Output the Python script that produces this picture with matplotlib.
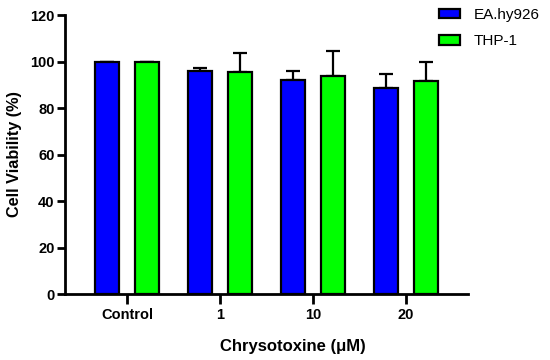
import numpy as np
import matplotlib.pyplot as plt

plt.rcParams['font.family'] = ['Liberation Sans', 'DejaVu Sans']

groups = ['Control', '1', '10', '20']
series = ['EA.hy926', 'THP-1']
ea_mean = [100, 96.1, 92.1, 88.7]
ea_sd = [0, 1.2, 3.7, 5.8]
thp_mean = [100, 95.4, 93.7, 91.5]
thp_sd = [0, 8.2, 11.0, 8.3]
colors = ['#0000ff', '#00ff00']

fig = plt.figure(figsize=(5.5, 3.6), dpi=100)
ax = fig.add_axes([0.1182, 0.1833, 0.733, 0.775])

x = np.arange(len(groups))
w = 0.255
off = 0.215
for i, (m, sd) in enumerate([(ea_mean, ea_sd), (thp_mean, thp_sd)]):
    pos = x + (-off if i == 0 else off)
    ax.bar(pos, m, width=w, color=colors[i], edgecolor='black', linewidth=1.6,
           label=series[i], zorder=2)
    ax.errorbar(pos, m, yerr=[np.zeros(len(sd)), sd], fmt='none', ecolor='black',
                elinewidth=1.6, capsize=4.7, capthick=1.6, zorder=1)

ax.set_xlim(-0.667, 3.667)
ax.set_ylim(0, 120)
ax.set_yticks(range(0, 121, 20))
ax.set_xticks(x)
ax.set_xticklabels(groups)
for s in ['top', 'right']:
    ax.spines[s].set_visible(False)
for s in ['left', 'bottom']:
    ax.spines[s].set_linewidth(2)
ax.tick_params(width=2, length=5.5, labelsize=10.5, pad=2)
ax.tick_params(axis='x', length=7, pad=3)
for lab in ax.get_xticklabels() + ax.get_yticklabels():
    lab.set_fontweight('bold')
ax.set_ylabel('Cell Viability (%)', fontsize=11.7, fontweight='bold', labelpad=6)
ax.set_xlabel('Chrysotoxine (μM)', fontsize=12, fontweight='bold')
ax.xaxis.set_label_coords(0.566, -0.16)

ax.legend(loc='upper left', bbox_to_anchor=(439 / 550, 352 / 360), bbox_transform=fig.transFigure,
          frameon=False, fontsize=11, handlelength=1.37, handleheight=0.6,
          labelspacing=0.8, handletextpad=0.9, borderpad=0, borderaxespad=0)

fig.savefig('out.png', dpi=100)
